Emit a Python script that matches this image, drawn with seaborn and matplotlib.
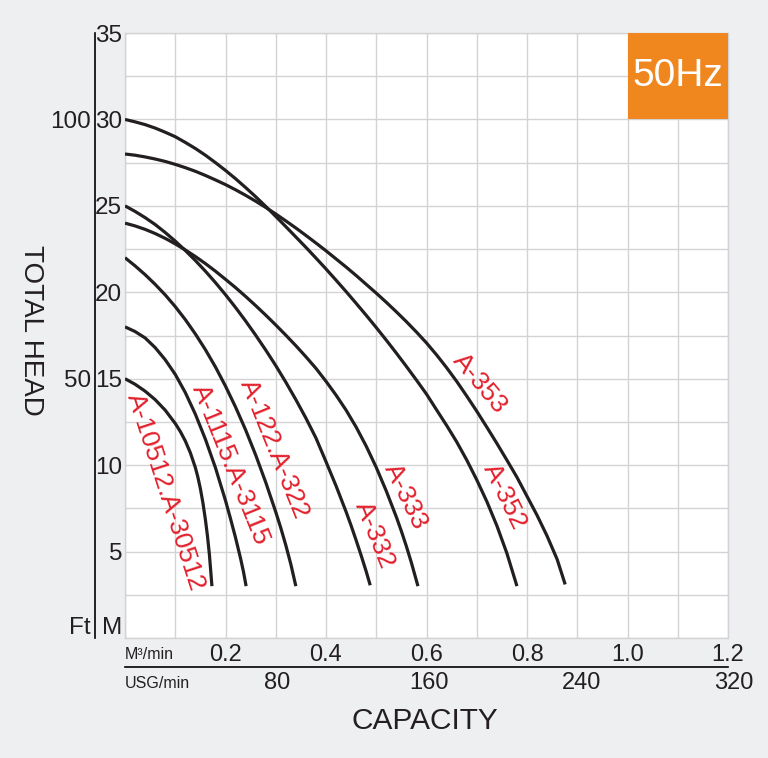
import matplotlib
matplotlib.use("Agg")
import matplotlib.pyplot as plt
import matplotlib.patches as patches
import matplotlib.transforms as mtransforms
import numpy as np
import pandas as pd
import seaborn as sns

# Pump curves: capacity (m3/min) vs total head (m)
models = ["A-10512.A-30512", "A-1115.A-3115", "A-122.A-322",
          "A-332", "A-333", "A-352", "A-353"]

q_10512 = [0, .02, .04, .06, .08, .10, .11, .12, .13, .14, .145, .15, .155, .16, .164, .168, .173]
h_10512 = [15.0, 14.68, 14.28, 13.79, 13.18, 12.41, 11.95, 11.4, 10.72, 9.86, 9.31, 8.64, 7.83, 6.85, 5.93, 4.82, 3.0]

q_1115 = [0, .02, .04, .06, .08, .10, .12, .14, .16, .18, .20, .21, .22, .23, .236, .241]
h_1115 = [18.0, 17.73, 17.36, 16.8, 16.1, 15.25, 14.2, 12.95, 11.5, 9.85, 7.95, 6.9, 5.8, 4.6, 3.8, 3.0]

q_122 = [0, .02, .04, .06, .08, .10, .12, .14, .16, .18, .20, .22, .24, .26, .28, .30, .31, .32, .33, .34]
h_122 = [22.0, 21.53, 21.02, 20.46, 19.85, 19.17, 18.42, 17.59, 16.68, 15.68, 14.57, 13.36, 12.04, 10.59,
         9.01, 7.29, 6.37, 5.37, 4.27, 3.0]

q_332 = [0, .02, .04, .06, .08, .10, .12, .14, .16, .18, .20, .22, .24, .26, .28, .30, .32, .34, .36, .38,
         .40, .42, .44, .45, .46, .47, .48, .488]
h_332 = [25.0, 24.68, 24.32, 23.92, 23.46, 22.96, 22.42, 21.84, 21.22, 20.56, 19.86, 19.12, 18.34, 17.52,
         16.66, 15.76, 14.8, 13.79, 12.72, 11.57, 10.2, 8.8, 7.3, 6.5, 5.65, 4.77, 3.85, 3.05]

q_333 = [0, .02, .04, .06, .08, .10, .12, .14, .16, .18, .20, .22, .24, .26, .28, .30, .32, .34, .36, .38,
         .40, .42, .44, .46, .48, .50, .52, .54, .55, .56, .57, .583]
h_333 = [24.0, 23.84, 23.64, 23.4, 23.12, 22.8, 22.45, 22.07, 21.66, 21.22, 20.75, 20.27, 19.76, 19.23,
         18.68, 18.11, 17.52, 16.91, 16.27, 15.6, 14.85, 14.05, 13.18, 12.2, 11.1, 9.87, 8.5, 7.0,
         6.18, 5.3, 4.35, 3.0]

q_352 = [0, .02, .04, .06, .08, .10, .12, .14, .16, .18, .20, .22, .24, .26, .28, .30, .32, .34, .36, .38,
         .40, .42, .44, .46, .48, .50, .52, .54, .56, .58, .60, .62, .64, .66, .68, .70, .72, .74, .76,
         .78]
h_352 = [30.0, 29.86, 29.7, 29.5, 29.26, 29.0, 28.67, 28.32, 27.93, 27.5, 27.05, 26.57, 26.06, 25.53,
         24.97, 24.39, 23.8, 23.2, 22.6, 21.98, 21.35, 20.7, 20.04, 19.36, 18.67, 17.96, 17.23, 16.48,
         15.71, 14.92, 14.11, 13.2, 12.3, 11.35, 10.3, 9.15, 7.9, 6.5, 4.9, 3.0]

q_353 = [0, .02, .04, .06, .08, .10, .12, .14, .16, .18, .20, .22, .24, .26, .28, .30, .32, .34, .36, .38,
         .40, .42, .44, .46, .48, .50, .52, .54, .56, .58, .60, .62, .64, .66, .68, .70, .72, .74, .76,
         .78, .80, .82, .84, .86, .876]
h_353 = [28.0, 27.93, 27.83, 27.71, 27.57, 27.4, 27.21, 27.0, 26.76, 26.5, 26.23, 25.93, 25.61, 25.27,
         24.91, 24.53, 24.13, 23.72, 23.29, 22.85, 22.4, 21.93, 21.46, 20.97, 20.46, 19.95, 19.42, 18.87,
         18.3, 17.7, 17.07, 16.38, 15.64, 14.85, 14.0, 13.12, 12.2, 11.26, 10.29, 9.3, 8.2, 7.1,
         5.9, 4.55, 3.1]

curve_q = [q_10512, q_1115, q_122, q_332, q_333, q_352, q_353]
curve_h = [h_10512, h_1115, h_122, h_332, h_333, h_352, h_353]

# where each model name sits along its curve
label_q = [0.0816, 0.210, 0.296, 0.497, 0.559, 0.756, 0.706]
label_h = [8.45, 10.0, 10.9, 5.96, 8.16, 8.16, 14.7]
label_rot = [-72, -68, -68, -68, -64, -64, -50]

m_ticks = [0.2, 0.4, 0.6, 0.8, 1.0, 1.2]
m_labels = ["0.2", "0.4", "0.6", "0.8", "1.0", "1.2"]
usg_ticks = [80, 160, 240, 320]
head_ticks = [0.7, 5, 10, 15, 20, 25, 30, 35]
head_labels = ["M", "5", "10", "15", "20", "25", "30", "35"]
ft_ticks = [0.7, 15, 30]
ft_labels = ["Ft", "50", "100"]

USG_PER_M3 = 1 / 0.0037854

sns.set_style("white")
plt.rcParams["font.family"] = ["Liberation Sans", "DejaVu Sans"]

curve_color = "#231f20"
red = "#e2202c"
grid_color = "#d3d3d6"
text_color = "#231f20"

frames = []
for name, q, h in zip(models, curve_q, curve_h):
    frames.append(pd.DataFrame({"model": name, "capacity": q, "head": h}))
df = pd.concat(frames, ignore_index=True)

fig = plt.figure(figsize=(7.68, 7.58), dpi=100, facecolor="#eeeff1")
ax = fig.add_axes([125 / 768, 1 - 638 / 758, 603 / 768, 605 / 758])
ax.set_facecolor("white")

sns.lineplot(data=df, x="capacity", y="head", hue="model", units="model",
             estimator=None, sort=False, palette=[curve_color] * len(models),
             linewidth=2.3, legend=False, ax=ax, zorder=3)
for ln in ax.lines:
    ln.set_solid_joinstyle("round")
    ln.set_solid_capstyle("butt")

ax.set_xlim(0, 1.2)
ax.set_ylim(0, 35)

# grid on minor ticks so label ticks stay free
ax.xaxis.remove_overlapping_locs = False
ax.yaxis.remove_overlapping_locs = False
ax.set_xticks(np.arange(0, 1.201, 0.1), minor=True)
ax.set_yticks(np.arange(0, 35.01, 2.5), minor=True)
ax.grid(which="minor", color=grid_color, linewidth=1)
ax.grid(which="major", visible=False)
ax.set_xticks(m_ticks, m_labels)
ax.set_yticks(head_ticks, head_labels)
ax.tick_params(which="both", length=0)
ax.tick_params(axis="x", pad=4, labelsize=17, labelcolor=text_color)
ax.tick_params(axis="y", pad=2, labelsize=17.5, labelcolor=text_color)
for s in ax.spines.values():
    s.set_color(grid_color)
    s.set_linewidth(1)
ax.set_xlabel("")
ax.set_ylabel("")

# feet scale with black line on the left
secy = ax.secondary_yaxis(-0.0498, functions=(lambda x: x, lambda x: x))
secy.set_yticks(ft_ticks, ft_labels)
secy.tick_params(length=0, pad=3, labelsize=17.5, labelcolor=text_color)
secy.spines["left"].set_color("black")
secy.spines["left"].set_linewidth(1.2)

# black rule between the two capacity scales
secx = ax.secondary_xaxis(-0.048, functions=(lambda q: q, lambda q: q))
secx.set_xticks([])
secx.spines["bottom"].set_color("black")
secx.spines["bottom"].set_linewidth(1.2)

# USG/min values (320 sits just past the frame, so plain text)
usg_trans = mtransforms.blended_transform_factory(ax.transData, ax.transAxes)
for g in usg_ticks:
    ax.text(g / USG_PER_M3, -0.0744, str(g), transform=usg_trans, ha="center",
            va="center", fontsize=17, color=text_color, clip_on=False)

ax.text(0.0, -0.028, "M³/min", transform=ax.transAxes, ha="left", va="center",
        fontsize=11.5, color=text_color)
ax.text(0.0, -0.0744, "USG/min", transform=ax.transAxes, ha="left", va="center",
        fontsize=11.5, color=text_color)

for name, lq, lh, rot in zip(models, label_q, label_h, label_rot):
    ax.text(lq, lh, name, color=red, fontsize=19, rotation=rot,
            rotation_mode="anchor", ha="center", va="center", zorder=4)

# frequency badge in the top right cell block
ax.add_patch(patches.Rectangle((1.0, 30), 0.2, 5, facecolor="#f0871e",
                               edgecolor="none", zorder=5))
ax.text(1.1, 32.5, "50Hz", color="white", fontsize=28, ha="center",
        va="center", zorder=6)

fig.text(425 / 768, 1 - 721 / 758, "CAPACITY", ha="center", va="center",
         fontsize=21.5, color=text_color)
fig.text(31 / 768, 1 - 330 / 758, "TOTAL HEAD", ha="center", va="center",
         rotation=-90, fontsize=20, color=text_color)

fig.savefig("out.png", dpi=100, facecolor=fig.get_facecolor())
